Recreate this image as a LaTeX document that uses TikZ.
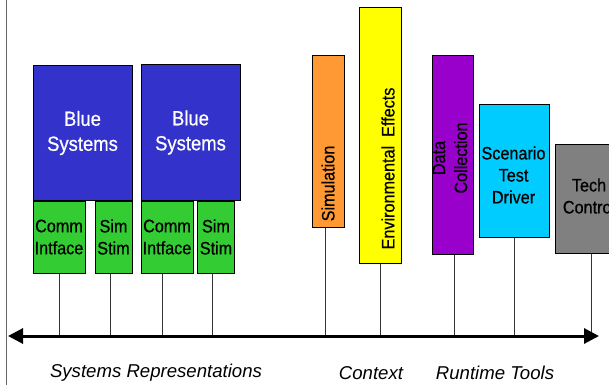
\documentclass[tikz,border=0pt]{standalone}
\usepackage{fontspec}
\setmainfont{Liberation Sans}
\newfontfamily\narrowsf[FakeStretch=0.9,FakeBold=0.6]{Liberation Sans}
\usetikzlibrary{arrows.meta}
\definecolor{sysblue}{HTML}{3333CC}
\definecolor{stimgreen}{HTML}{33CC33}
\definecolor{simorange}{HTML}{FF9933}
\definecolor{envyellow}{HTML}{FFFF00}
\definecolor{datapurple}{HTML}{9900CC}
\definecolor{drvcyan}{HTML}{00CCFF}
\definecolor{techgray}{HTML}{808080}
\tikzset{
  box/.style={draw=black, line width=1pt, inner sep=0pt, align=center,
    font=\narrowsf\fontsize{18}{22}\selectfont},
  boxtext/.style={inner sep=0pt, align=center,
    font=\narrowsf\fontsize{18}{22}\selectfont},
  stem/.style={draw=black!80, line width=1pt},
  axisline/.style={line width=3pt, {Triangle[length=15pt,width=15pt]}-{Triangle[length=15pt,width=15pt]}},
  grouplabel/.style={inner sep=0pt, font=\itshape\fontsize{18.6}{22}\selectfont}
}
\begin{document}
\begin{tikzpicture}[x=1pt, y=-1pt]
\useasboundingbox (0,0) rectangle (609,385);
\clip (0,0) rectangle (609,385);
\fill[white] (0,0) rectangle (609,385);

% left margin rule
\draw[black!60, line width=1pt] (6,0) -- (6,385);

% timeline axis
\coordinate (axL) at (8,336);
\coordinate (axR) at (599,336);

% systems representations
\node[box, fill=sysblue, text=white, minimum width=99pt, minimum height=134pt,
  font=\narrowsf\fontsize{20.5}{25}\selectfont] (blue1) at (82.5,133) {Blue\\Systems};
\node[box, fill=sysblue, text=white, minimum width=99pt, minimum height=135pt,
  font=\narrowsf\fontsize{20.5}{25}\selectfont] (blue2) at (190.5,132.5) {Blue\\Systems};
\node[box, fill=stimgreen, minimum width=52pt, minimum height=72pt] (comm1) at (59,237) {Comm\\Intface};
\node[box, fill=stimgreen, minimum width=37pt, minimum height=72pt] (sim1) at (113.5,237) {Sim\\Stim};
\node[box, fill=stimgreen, minimum width=52pt, minimum height=72pt] (comm2) at (167,237) {Comm\\Intface};
\node[box, fill=stimgreen, minimum width=37pt, minimum height=72pt] (sim2) at (216,237) {Sim\\Stim};

% context
\node[box, fill=simorange, minimum width=32pt, minimum height=171pt] (simu) at (328,141.5) {};
\node[boxtext, rotate=90] (simutxt) at (328,183.5) {Simulation};
\node[box, fill=envyellow, minimum width=42pt, minimum height=255pt] (env) at (380,135.5) {};
\node[boxtext, rotate=90] (envtxt) at (388,168.5) {Environmental\ \ Effects};

% runtime tools
\node[box, fill=datapurple, minimum width=41pt, minimum height=198pt] (data) at (452.5,155) {};
\node[boxtext, rotate=90] (datatxt) at (450,158) {Data\\Collection};
\node[box, fill=drvcyan, minimum width=70pt, minimum height=133pt] (driver) at (514,170.5) {};
\node[boxtext] (drivertxt) at (513.5,175) {Scenario\\Test\\Driver};
\node[box, fill=techgray, minimum width=68pt, minimum height=109pt] (tech) at (589,198.5) {};
\node[boxtext] (techtxt) at (589,196) {Tech\\Control};

% stems down to the axis
\draw[stem] (comm1.south) -- (comm1.south |- axL);
\draw[stem] ([xshift=-3.5pt]sim1.south) -- ([xshift=-3.5pt]sim1.south |- axL);
\draw[stem] ([xshift=-5pt]comm2.south) -- ([xshift=-5pt]comm2.south |- axL);
\draw[stem] ([xshift=-4pt]sim2.south) -- ([xshift=-4pt]sim2.south |- axL);
\draw[stem] ([xshift=-3pt]simu.south) -- ([xshift=-3pt]simu.south |- axL);
\draw[stem] (env.south) -- (env.south |- axL);
\draw[stem] ([xshift=1.5pt]data.south) -- ([xshift=1.5pt]data.south |- axL);
\draw[stem] (driver.south) -- (driver.south |- axL);
\draw[stem] ([xshift=2pt]tech.south) -- ([xshift=2pt]tech.south |- axL);

\draw[axisline] (axL) -- (axR);

% group labels
\node[grouplabel] (lblsys) at (156,373) {Systems Representations};
\node[grouplabel] (lblctx) at (371,373) {Context};
\node[grouplabel] (lblrt) at (495,373) {Runtime Tools};
\end{tikzpicture}
\end{document}
